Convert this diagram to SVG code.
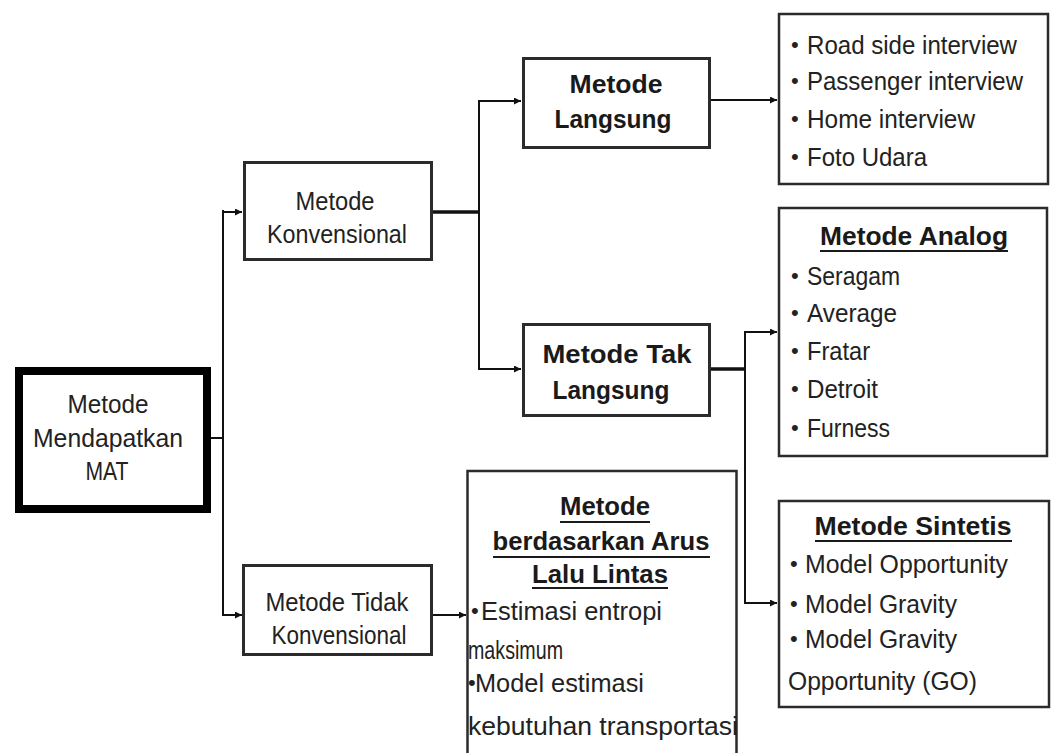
<svg xmlns="http://www.w3.org/2000/svg" width="1056" height="753" viewBox="0 0 1056 753">
  <defs>
    <marker id="arrow" viewBox="0 0 8 8" refX="8" refY="4" markerWidth="7" markerHeight="7" markerUnits="userSpaceOnUse" orient="auto">
      <path d="M0,0 L8,4 L0,8 z" fill="#111"/>
    </marker>
    <style>
      .box { fill: #fff; stroke: #2b2b2b; stroke-width: 3; }
      .thin { fill: #fff; stroke: #2b2b2b; stroke-width: 2.5; }
      .root { fill: #fff; stroke: #000; stroke-width: 8; }
      .t { font-family: "Liberation Sans", Arial, sans-serif; font-size: 26px; fill: #222; }
      .b { font-family: "Liberation Sans", Arial, sans-serif; font-size: 26px; font-weight: bold; fill: #1a1a1a; }
      .dot { font-family: "Liberation Sans", Arial, sans-serif; font-size: 22px; fill: #222; }
      .mid { text-anchor: middle; }
      .ul { stroke: #1a1a1a; stroke-width: 2; }
      .wire { fill: none; stroke: #111; stroke-width: 2; }
      .heavy { fill: none; stroke: #111; stroke-width: 3.5; }
    </style>
  </defs>
  <rect width="1056" height="753" fill="#fff"/>

  <!-- connectors -->
  <g id="connectors">
    <path class="wire" d="M211 438 H223"/>
    <path class="wire" d="M223 210 V616"/>
    <path class="wire" d="M222 212 H242" marker-end="url(#arrow)"/>
    <path class="wire" d="M222 615 H242" marker-end="url(#arrow)"/>
    <path class="heavy" d="M433 212 H479"/>
    <path class="wire" d="M479 100 V370"/>
    <path class="wire" d="M478 101 H521" marker-end="url(#arrow)"/>
    <path class="wire" d="M478 369 H521" marker-end="url(#arrow)"/>
    <path class="wire" d="M710 100 H777" marker-end="url(#arrow)"/>
    <path class="heavy" d="M711 369 H745"/>
    <path class="wire" d="M745 332 V604"/>
    <path class="wire" d="M744 332 H777" marker-end="url(#arrow)"/>
    <path class="wire" d="M744 603 H777" marker-end="url(#arrow)"/>
    <path class="wire" d="M433 615 H466" marker-end="url(#arrow)"/>
  </g>

  <!-- root -->
  <g id="node-mat">
    <rect class="root" x="19" y="371" width="188" height="138"/>
    <text class="t mid" x="108" y="413" textLength="81" lengthAdjust="spacingAndGlyphs">Metode</text>
    <text class="t mid" x="108" y="447" textLength="150" lengthAdjust="spacingAndGlyphs">Mendapatkan</text>
    <text class="t mid" x="107" y="480" textLength="43" lengthAdjust="spacingAndGlyphs">MAT</text>
  </g>

  <g id="node-konvensional">
    <rect class="box" x="244.5" y="162.5" width="187" height="97"/>
    <text class="t mid" x="335" y="210" textLength="79" lengthAdjust="spacingAndGlyphs">Metode</text>
    <text class="t mid" x="337" y="243" textLength="140" lengthAdjust="spacingAndGlyphs">Konvensional</text>
  </g>

  <g id="node-tidak-konvensional">
    <rect class="box" x="243.5" y="565.5" width="188" height="89"/>
    <text class="t mid" x="337" y="611" textLength="143" lengthAdjust="spacingAndGlyphs">Metode Tidak</text>
    <text class="t mid" x="339" y="644" textLength="135" lengthAdjust="spacingAndGlyphs">Konvensional</text>
  </g>

  <g id="node-langsung">
    <rect class="box" x="523.5" y="58.5" width="186" height="89"/>
    <text class="b mid" x="616" y="93" textLength="93" lengthAdjust="spacingAndGlyphs">Metode</text>
    <text class="b mid" x="613" y="128" textLength="117" lengthAdjust="spacingAndGlyphs">Langsung</text>
  </g>

  <g id="node-tak-langsung">
    <rect class="box" x="523.5" y="324.5" width="186" height="91"/>
    <text class="b mid" x="617" y="363" textLength="149" lengthAdjust="spacingAndGlyphs">Metode Tak</text>
    <text class="b mid" x="611" y="399" textLength="117" lengthAdjust="spacingAndGlyphs">Langsung</text>
  </g>

  <g id="node-survei">
    <rect class="thin" x="779" y="14" width="269" height="170"/>
    <text class="dot" x="791" y="52">•</text>
    <text class="t" x="807" y="54" textLength="210" lengthAdjust="spacingAndGlyphs">Road side interview</text>
    <text class="dot" x="791" y="88">•</text>
    <text class="t" x="807" y="90" textLength="216" lengthAdjust="spacingAndGlyphs">Passenger interview</text>
    <text class="dot" x="791" y="126">•</text>
    <text class="t" x="807" y="128" textLength="168" lengthAdjust="spacingAndGlyphs">Home  interview</text>
    <text class="dot" x="791" y="164">•</text>
    <text class="t" x="807" y="166" textLength="120" lengthAdjust="spacingAndGlyphs">Foto Udara</text>
  </g>

  <g id="node-analog">
    <rect class="thin" x="779" y="208" width="268" height="248"/>
    <text class="b mid" x="914" y="245" textLength="188" lengthAdjust="spacingAndGlyphs">Metode Analog</text>
    <line class="ul" x1="820" y1="251" x2="1008" y2="251"/>
    <text class="dot" x="791" y="283">•</text>
    <text class="t" x="807" y="285" textLength="93" lengthAdjust="spacingAndGlyphs">Seragam</text>
    <text class="dot" x="791" y="320">•</text>
    <text class="t" x="807" y="322" textLength="90" lengthAdjust="spacingAndGlyphs">Average</text>
    <text class="dot" x="791" y="358">•</text>
    <text class="t" x="807" y="360" textLength="63" lengthAdjust="spacingAndGlyphs">Fratar</text>
    <text class="dot" x="791" y="396">•</text>
    <text class="t" x="807" y="398" textLength="71" lengthAdjust="spacingAndGlyphs">Detroit</text>
    <text class="dot" x="791" y="435">•</text>
    <text class="t" x="807" y="437" textLength="83" lengthAdjust="spacingAndGlyphs">Furness</text>
  </g>

  <g id="node-sintetis">
    <rect class="thin" x="779" y="501" width="270" height="206"/>
    <text class="b mid" x="913" y="535" textLength="197" lengthAdjust="spacingAndGlyphs">Metode Sintetis</text>
    <line class="ul" x1="815" y1="541" x2="1012" y2="541"/>
    <text class="dot" x="790" y="571">•</text>
    <text class="t" x="805" y="573" textLength="203" lengthAdjust="spacingAndGlyphs">Model Opportunity</text>
    <text class="dot" x="790" y="611">•</text>
    <text class="t" x="805" y="613" textLength="152" lengthAdjust="spacingAndGlyphs">Model Gravity</text>
    <text class="dot" x="790" y="646">•</text>
    <text class="t" x="805" y="648" textLength="152" lengthAdjust="spacingAndGlyphs">Model Gravity</text>
    <text class="t" x="788" y="690" textLength="189" lengthAdjust="spacingAndGlyphs">Opportunity (GO)</text>
  </g>

  <g id="node-arus">
    <rect class="thin" x="467.5" y="471" width="269" height="300"/>
    <text class="b mid" x="605" y="515" textLength="90" lengthAdjust="spacingAndGlyphs">Metode</text>
    <line class="ul" x1="560" y1="522" x2="650" y2="522"/>
    <text class="b mid" x="601" y="550" textLength="217" lengthAdjust="spacingAndGlyphs">berdasarkan Arus</text>
    <line class="ul" x1="493" y1="557" x2="710" y2="557"/>
    <text class="b mid" x="600" y="583" textLength="136" lengthAdjust="spacingAndGlyphs">Lalu Lintas</text>
    <line class="ul" x1="532" y1="588" x2="668" y2="588"/>
    <text class="dot" x="471" y="618">•</text>
    <text class="t" x="481" y="620" textLength="181" lengthAdjust="spacingAndGlyphs">Estimasi entropi</text>
    <text class="t" x="468" y="659" textLength="95" lengthAdjust="spacingAndGlyphs">maksimum</text>
    <text class="dot" x="468" y="690">•</text>
    <text class="t" x="475" y="692" textLength="169" lengthAdjust="spacingAndGlyphs">Model estimasi</text>
    <text class="t" x="468" y="735" textLength="270" lengthAdjust="spacingAndGlyphs">kebutuhan transportasi</text>
  </g>
</svg>
